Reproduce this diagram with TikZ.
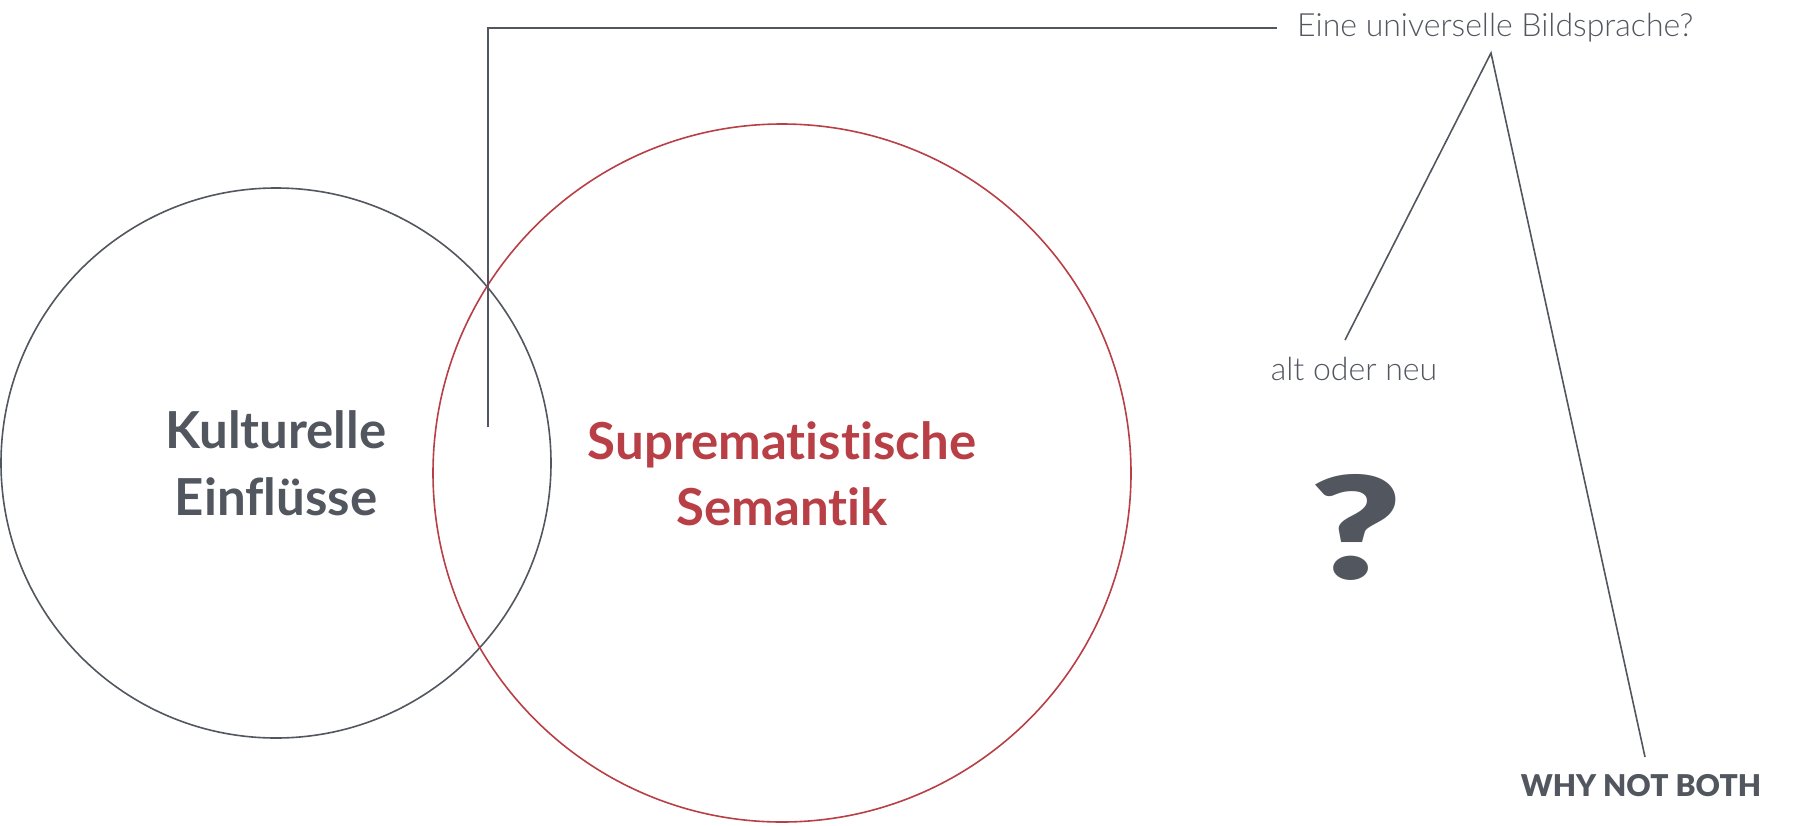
\documentclass[tikz,border=0pt]{standalone}
\usepackage{graphicx}
\usepackage{fontspec}
\setmainfont{Lato}[Ligatures=NoCommon]
\newfontfamily\lightfont{Lato Light}
\newfontfamily\blackfont{Lato Black}
\definecolor{ink}{HTML}{52565E}
\definecolor{redink}{HTML}{B83F46}
\begin{document}
\begin{tikzpicture}[x=1pt,y=-1pt,
  ring/.style={line width=1.6pt},
  conn/.style={draw=ink, line width=1.6pt},
  bigtext/.style={font=\fontsize{51}{51}\selectfont\bfseries, anchor=base, inner sep=0pt},
  smalltext/.style={font=\fontsize{32}{32}\selectfont\lightfont, text=ink, anchor=base, inner sep=0pt}]
\useasboundingbox (0,0) rectangle (1798,825);
% circles
\draw[ring, draw=ink] (276,463) circle[radius=275pt];
\draw[ring, draw=redink] (782,473) circle[radius=349pt];
% texts
\node[bigtext, text=ink] (k1) at (276,448) {Kulturelle};
\node[bigtext, text=ink] (k2) at (276,515) {Einflüsse};
\node[bigtext, text=redink] (s1) at (782,459) {Suprematistische};
\node[bigtext, text=redink] (s2) at (782,525) {Semantik};
\node[smalltext, anchor=base west] (top) at (1297,36) {Eine universelle Bildsprache?};
\node[smalltext] (alt) at (1354,380) {alt oder neu};
\node[font=\fontsize{30}{30}\selectfont\blackfont, text=ink, anchor=base, inner sep=0pt] (why) at (1641,796) {WHY NOT BOTH};
\node[text=ink, inner sep=0pt, anchor=south] (q) at (1356,581) {\resizebox{93pt}{105pt}{\blackfont ?}};
% connector coordinates
\coordinate (vbot) at (488,427);
\coordinate (corner) at (488,28);
\coordinate (hend) at (1277,28);
\coordinate (apex) at (1491,53);
\coordinate (altend) at (1345,340);
\coordinate (whyend) at (1645,757);
\draw[conn] (vbot) -- (corner) -- (hend);
\draw[conn] (altend) -- (apex) -- (whyend);
\end{tikzpicture}
\end{document}
